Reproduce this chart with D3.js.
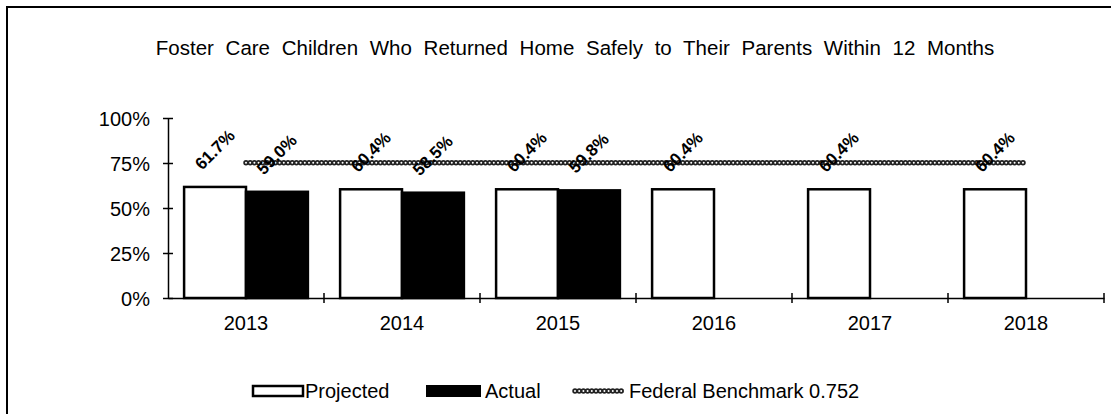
<!DOCTYPE html>
<html>
<head>
<meta charset="utf-8">
<script src="https://cdn.jsdelivr.net/npm/d3@7"></script>
<style>
  body { margin: 0; background: #fff; }
  svg { font-family: "Liberation Sans", Arial, sans-serif; }
</style>
</head>
<body>
<div id="grafico"></div>
<script>
// datos
const YEARS = ["2013", "2014", "2015", "2016", "2017", "2018"];
const PROJECTED = [0.617, 0.604, 0.604, 0.604, 0.604, 0.604];
const ACTUAL = [0.590, 0.585, 0.598, null, null, null];
const BENCHMARK = [0.752, 0.752, 0.752, 0.752, 0.752, 0.752];
const Y_TICKS = [0, 0.25, 0.5, 0.75, 1];
const SERIES = ["Projected", "Actual"];
const TITLE = "Foster Care Children Who Returned Home Safely to Their Parents Within 12 Months";

const WIDTH = 1111;
const HEIGHT = 414;

const SVG = d3.select("#grafico").append("svg").attr("width", WIDTH).attr("height", HEIGHT);

// marco exterior
SVG.append("path")
    .attr("d", "M7,414 L7,7 L1111,7")
    .attr("fill", "none")
    .attr("stroke", "#000")
    .attr("stroke-width", 2);

SVG.append("text")
    .attr("x", 575)
    .attr("y", 47)
    .attr("text-anchor", "middle")
    .attr("dominant-baseline", "central")
    .style("font-size", "20.5px")
    .style("word-spacing", "6px")
    .text(TITLE);

// escalas
var escalaX = d3.scaleBand()
    .domain(YEARS)
    .range([168, 1104])
    .padding(0);

var escalaSerie = d3.scaleBand()
    .domain(SERIES)
    .range([0, escalaX.bandwidth()])
    .paddingInner(0)
    .paddingOuter(0.26);

var escalaY = d3.scaleLinear()
    .domain([0, 1])
    .range([298, 118]);

// barras
var datosBarras = [];
YEARS.forEach(function(y, i) {
    datosBarras.push({ year: y, serie: "Projected", value: PROJECTED[i] });
    if (ACTUAL[i] !== null) datosBarras.push({ year: y, serie: "Actual", value: ACTUAL[i] });
});

SVG.selectAll("rect.barra")
    .data(datosBarras)
    .enter().append("rect")
    .attr("class", "barra")
    .attr("x", d => escalaX(d.year) + escalaSerie(d.serie))
    .attr("y", d => escalaY(d.value))
    .attr("width", escalaSerie.bandwidth())
    .attr("height", d => escalaY(0) - escalaY(d.value))
    .attr("fill", d => d.serie === "Actual" ? "#000" : "#fff")
    .attr("stroke", "#000")
    .attr("stroke-width", 2.5);

// línea de referencia (anillos)
var linea = d3.line()
    .x((d, i) => escalaX(YEARS[i]) + escalaX.bandwidth() / 2)
    .y(d => escalaY(d));

SVG.append("path")
    .attr("d", linea(BENCHMARK))
    .attr("fill", "none")
    .attr("stroke", "#222")
    .attr("stroke-width", 5.5)
    .attr("stroke-linecap", "round")
    .attr("stroke-dasharray", "0,4.2");

SVG.append("path")
    .attr("d", linea(BENCHMARK))
    .attr("fill", "none")
    .attr("stroke", "#fff")
    .attr("stroke-width", 2)
    .attr("stroke-linecap", "round")
    .attr("stroke-dasharray", "0,4.2");

// etiquetas de datos
SVG.selectAll("text.etiqueta")
    .data(datosBarras)
    .enter().append("text")
    .attr("class", "etiqueta")
    .attr("transform", function(d) {
        var cx = escalaX(d.year) + escalaSerie(d.serie) + escalaSerie.bandwidth() / 2;
        var cy = escalaY(d.value) - 37;
        return "translate(" + cx + "," + cy + ") rotate(-45)";
    })
    .attr("text-anchor", "middle")
    .attr("dominant-baseline", "central")
    .style("font-size", "17px")
    .style("font-weight", "bold")
    .text(d => (d.value * 100).toFixed(1) + "%");

// ejes
var ejeY = d3.axisLeft(escalaY)
    .tickValues(Y_TICKS)
    .tickFormat(d3.format(".0%"))
    .tickSizeInner(5)
    .tickSizeOuter(0);

var gY = SVG.append("g")
    .attr("transform", "translate(168,0)")
    .call(ejeY);
gY.selectAll(".tick line").attr("x2", 5).attr("x1", -5).attr("stroke-width", 1.5);
gY.select(".domain").attr("stroke-width", 1.5);
gY.selectAll("text")
    .attr("x", -18)
    .attr("dy", "0.35em")
    .style("font-size", "20px")
    .style("font-family", "'Liberation Sans', Arial, sans-serif");

var ejeX = d3.axisBottom(escalaX).tickSize(0).tickSizeOuter(0);
var gX = SVG.append("g")
    .attr("transform", "translate(0,298)")
    .call(ejeX);
gX.select(".domain").attr("stroke-width", 1.5);
gX.selectAll("text")
    .attr("y", 25)
    .attr("dy", "0")
    .attr("dominant-baseline", "central")
    .style("font-size", "20px")
    .style("font-family", "'Liberation Sans', Arial, sans-serif");

// marcas entre categorías
var limites = YEARS.map(y => escalaX(y)).concat([escalaX(YEARS[YEARS.length - 1]) + escalaX.bandwidth()]);
gX.selectAll("line.limite")
    .data(limites.slice(1))
    .enter().append("line")
    .attr("class", "limite")
    .attr("x1", d => d).attr("x2", d => d)
    .attr("y1", -5).attr("y2", 5)
    .attr("stroke", "#000")
    .attr("stroke-width", 1.5);

// leyenda
var leyenda = SVG.append("g").attr("transform", "translate(0,391)");

leyenda.append("rect")
    .attr("x", 253).attr("y", -5).attr("width", 50).attr("height", 10)
    .attr("fill", "#fff").attr("stroke", "#000").attr("stroke-width", 2.5);
leyenda.append("text")
    .attr("x", 305).attr("y", 0).attr("dominant-baseline", "central")
    .style("font-size", "20px").text("Projected");

leyenda.append("rect")
    .attr("x", 427).attr("y", -5).attr("width", 53).attr("height", 10)
    .attr("fill", "#000").attr("stroke", "#000").attr("stroke-width", 2);
leyenda.append("text")
    .attr("x", 485).attr("y", 0).attr("dominant-baseline", "central")
    .style("font-size", "20px").text("Actual");

leyenda.append("line")
    .attr("x1", 575).attr("x2", 625).attr("y1", 0).attr("y2", 0)
    .attr("stroke", "#222").attr("stroke-width", 5.5)
    .attr("stroke-linecap", "round").attr("stroke-dasharray", "0,4.2");
leyenda.append("line")
    .attr("x1", 575).attr("x2", 625).attr("y1", 0).attr("y2", 0)
    .attr("stroke", "#fff").attr("stroke-width", 2)
    .attr("stroke-linecap", "round").attr("stroke-dasharray", "0,4.2");
leyenda.append("text")
    .attr("x", 629).attr("y", 0).attr("dominant-baseline", "central")
    .style("font-size", "20px").text("Federal Benchmark 0.752");
</script>
</body>
</html>
